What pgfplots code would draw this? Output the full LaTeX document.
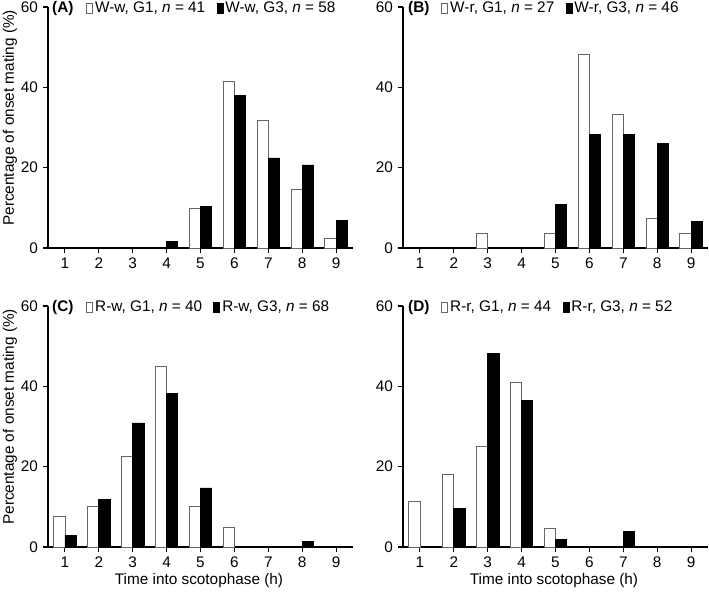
\documentclass[border=0pt]{standalone}
\usepackage{fontspec}
\setmainfont{Liberation Sans}
\usepackage{pgfplots}
\pgfplotsset{compat=1.18}
\newcommand\fs{\fontsize{11.5}{13.8}\selectfont}
\pgfplotsset{
  panel/.style={
    width=228.75pt, height=180.75pt, scale only axis,
    xmin=0.5, xmax=9.5, ymin=0, ymax=60,
    axis x line=bottom, axis y line=left,
    axis line style={-, line width=1.2pt, black},
    xtick={1,2,3,4,5,6,7,8,9}, ytick={0,20,40,60},
    tick align=outside, major tick length=4pt,
    major tick style={line width=0.8pt, black},
    /pgf/number format/assume math mode=true,
    tick label style={font=\fs},
    label style={font=\fs},
    ybar, bar width=8.4pt,
    enlargelimits=false, clip=false,
    legend style={at={(rel axis cs:0.125,0.995)}, anchor=west, draw=none, fill=none,
      inner sep=0pt, font=\fs, legend columns=2,
      /tikz/every even column/.append style={column sep=7pt},
      nodes={inner sep=1.5pt}},
    legend image code/.code={\draw[##1] (0pt,-3.9pt) rectangle (4.5pt,3.9pt);},
  },
  gone/.style={bar shift=-4.2pt, draw=black!60, fill=white, line width=0.6pt},
  gthree/.style={bar shift=4.2pt, draw=black, fill=black, line width=0.6pt},
  ylab/.style={ylabel={Percentage of onset mating (\%)},
    every axis y label/.style={at={(axis description cs:-0.125,0.54)}, rotate=90, anchor=center, font=\fs}},
  xlab/.style={xlabel={Time into scotophase (h)},
    every axis x label/.style={at={(axis description cs:0.495,-0.14)}, anchor=center, font=\fs}},
}
\begin{document}
\begin{tikzpicture}
% (A)
\begin{axis}[panel, ylab, at={(0pt,0pt)}, anchor=south west]
\addplot[gone] coordinates {(5,9.76) (6,41.46) (7,31.71) (8,14.63) (9,2.44)};
\addplot[gthree] coordinates {(4,1.72) (5,10.34) (6,37.93) (7,22.41) (8,20.69) (9,6.90)};
\legend{{W-w, G1, \textit{n} = 41}, {W-w, G3, \textit{n} = 58}}
\node[anchor=west, font=\fs\bfseries, inner sep=0pt] at (rel axis cs:0.013,0.995) {(A)};
\end{axis}
% (B)
\begin{axis}[panel, at={(266.25pt,0pt)}, anchor=south west]
\addplot[gone] coordinates {(3,3.70) (5,3.70) (6,48.15) (7,33.33) (8,7.41) (9,3.70)};
\addplot[gthree] coordinates {(5,10.87) (6,28.26) (7,28.26) (8,26.09) (9,6.52)};
\legend{{W-r, G1, \textit{n} = 27}, {W-r, G3, \textit{n} = 46}}
\node[anchor=west, font=\fs\bfseries, inner sep=0pt] at (rel axis cs:0.016,0.995) {(B)};
\end{axis}
% (C)
\begin{axis}[panel, ylab, xlab, at={(0pt,-224.25pt)}, anchor=south west]
\addplot[gone] coordinates {(1,7.5) (2,10) (3,22.5) (4,45) (5,10) (6,5)};
\addplot[gthree] coordinates {(1,2.94) (2,11.76) (3,30.88) (4,38.24) (5,14.71) (8,1.47)};
\legend{{R-w, G1, \textit{n} = 40}, {R-w, G3, \textit{n} = 68}}
\node[anchor=west, font=\fs\bfseries, inner sep=0pt] at (rel axis cs:0.013,0.995) {(C)};
\end{axis}
% (D)
\begin{axis}[panel, xlab, at={(266.25pt,-224.25pt)}, anchor=south west]
\addplot[gone] coordinates {(1,11.36) (2,18.18) (3,25) (4,40.91) (5,4.55)};
\addplot[gthree] coordinates {(2,9.62) (3,48.08) (4,36.54) (5,1.92) (7,3.85)};
\legend{{R-r, G1, \textit{n} = 44}, {R-r, G3, \textit{n} = 52}}
\node[anchor=west, font=\fs\bfseries, inner sep=0pt] at (rel axis cs:0.016,0.995) {(D)};
\end{axis}
\pgfresetboundingbox
\path (-36pt,186pt) rectangle (495.75pt,-259.5pt);
\end{tikzpicture}
\end{document}
